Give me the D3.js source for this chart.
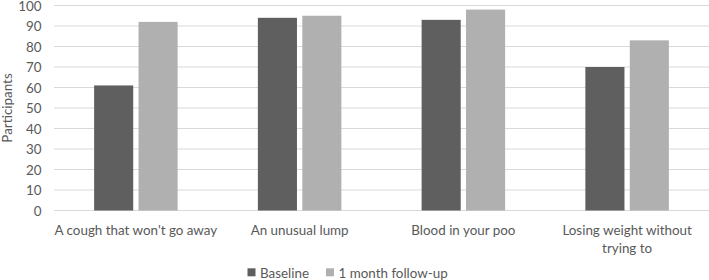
<!DOCTYPE html>
<html>
<head>
<meta charset="utf-8">
<script src="https://cdn.jsdelivr.net/npm/d3@7"></script>
<style>
  body { margin: 0; background: #fff; }
  text { font-family: Lato, "Liberation Sans", sans-serif; fill: #595959; }
</style>
</head>
<body>
<div id="chart"></div>
<script>
var categories = ["A cough that won't go away", "An unusual lump", "Blood in your poo", "Losing weight without trying to"]
var series = ["Baseline", "1 month follow-up"]
var baseline = [61, 94, 93, 70]
var followUp = [92, 95, 98, 83]
var yTicks = [0, 10, 20, 30, 40, 50, 60, 70, 80, 90, 100]
var colors = ["#5f5f5f", "#b0b0b0"]

var W = 709, H = 280
var margin = {top: 5.5, right: 0, bottom: 69.5, left: 54}
var width = W - margin.left - margin.right
var height = H - margin.top - margin.bottom
var fontSize = "13.4px"

var svg = d3.select("#chart").append("svg")
  .attr("width", W)
  .attr("height", H)

var g = svg.append("g")
  .attr("transform", "translate(" + margin.left + "," + margin.top + ")")

var x0 = d3.scaleBand().domain(categories).range([0, width]).paddingInner(0.49).paddingOuter(0.245)
var x1 = d3.scaleBand().domain(series).range([0, x0.bandwidth()]).paddingInner(0.12)
var y = d3.scaleLinear().domain([0, 100]).range([height, 0])

// gridlines
g.append("g").selectAll("line").data(yTicks).enter().append("line")
  .attr("x1", 0).attr("x2", width)
  .attr("y1", d => y(d)).attr("y2", d => y(d))
  .attr("stroke", "#d9d9d9").attr("stroke-width", 1)

// y axis
var yAxis = d3.axisLeft(y).tickValues(yTicks).tickSize(0).tickPadding(12.5)
g.append("g").call(yAxis).call(a => {
  a.select(".domain").remove()
  a.selectAll("text").style("font-size", fontSize).attr("fill", "#595959")
    .style("font-family", "Lato, 'Liberation Sans', sans-serif")
    .attr("dy", "0.34em")
})

var data = categories.map((c, i) => ({cat: c, values: [baseline[i], followUp[i]]}))

var groups = g.selectAll(".grp").data(data).enter().append("g")
  .attr("transform", d => "translate(" + x0(d.cat) + ",0)")

groups.selectAll("rect").data(d => d.values.map((v, j) => ({s: series[j], v: v, j: j}))).enter().append("rect")
  .attr("x", d => x1(d.s))
  .attr("width", x1.bandwidth())
  .attr("y", d => y(d.v))
  .attr("height", d => height - y(d.v))
  .attr("fill", d => colors[d.j])

// category labels (last one wraps onto two lines)
var step = x0.step()
var xl = g.append("g").attr("transform", "translate(0," + height + ")")
categories.forEach(function(c, i) {
  var cx = step * i + step / 2
  var lines = c === "Losing weight without trying to" ? ["Losing weight without", "trying to"] : [c]
  var t = xl.append("text").attr("text-anchor", "middle").style("font-size", fontSize)
  lines.forEach(function(l, k) {
    t.append("tspan").attr("x", cx).attr("y", 24 + k * 18).text(l)
  })
})

// y title
svg.append("text")
  .attr("transform", "translate(12," + (margin.top + height / 2) + ") rotate(-90)")
  .attr("text-anchor", "middle")
  .style("font-size", fontSize)
  .text("Participants")

// legend
var legend = svg.append("g").attr("transform", "translate(247.5,268.3)")
var lx = [0, 78.5]
series.forEach(function(s, i) {
  var lg = legend.append("g").attr("transform", "translate(" + lx[i] + ",0)")
  lg.append("rect").attr("width", 8).attr("height", 8).attr("fill", colors[i])
  lg.append("text").attr("x", 12.5).attr("y", 9.3).style("font-size", fontSize).text(s)
})
</script>
</body>
</html>
